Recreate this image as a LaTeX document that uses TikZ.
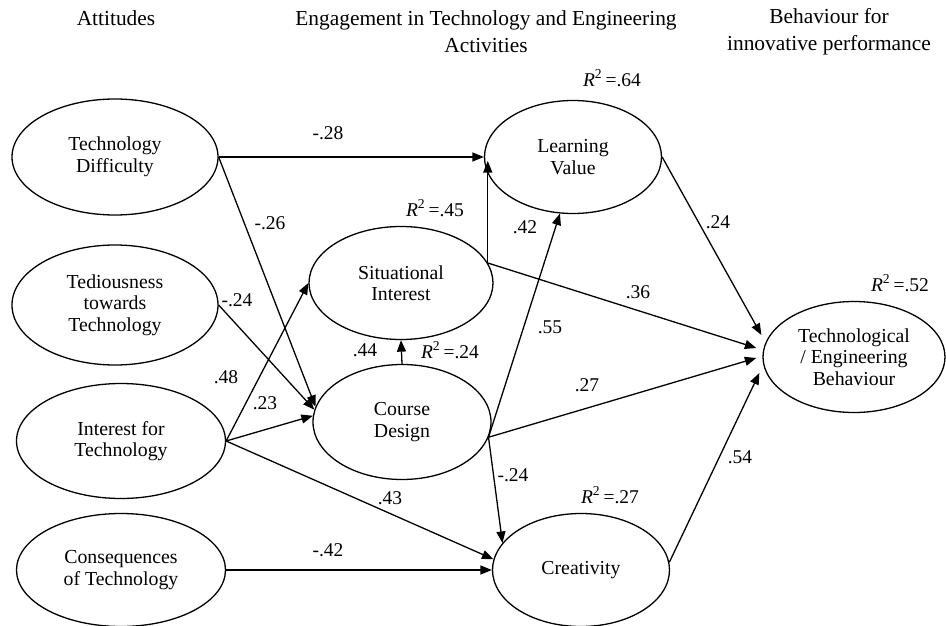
\documentclass[tikz,border=0pt]{standalone}
\usepackage{fontspec}
\setmainfont{Liberation Serif}
\usetikzlibrary{shapes.geometric,arrows.meta,calc}

% R-squared annotation
\newcommand{\Rsq}[1]{\textit{R}\textsuperscript{2}\,=#1}

\begin{document}
\begin{tikzpicture}[x=1pt,y=1pt,
  construct/.style={ellipse, draw, line width=1.3pt, inner sep=0pt, align=center,
    font=\fontsize{19.8}{21.5}\selectfont},
  path/.style={line width=1.3pt, -{Triangle[length=11.5pt,width=9pt]}},
  coef/.style={font=\fontsize{19.5}{21.5}\selectfont, inner sep=0pt},
  heading/.style={align=center, font=\fontsize{21.4}{27}\selectfont, inner sep=0pt}]
\useasboundingbox (0,0) rectangle (946,-626);

% column headings
\node[heading] (h1) at (116,-18) {Attitudes};
\node[heading] (h2) at (486,-31.5) {Engagement in Technology and Engineering\\Activities};
\node[heading] (h3) at (829,-31.5) {Behaviour for\\innovative performance};

% latent constructs
\node[construct, minimum width=206pt, minimum height=116pt] (td)   at (115,-157) {Technology\\Difficulty};
\node[construct, minimum width=206pt, minimum height=120pt] (ted)  at (115,-305) {Tediousness\\towards\\Technology};
\node[construct, minimum width=209pt, minimum height=115pt] (ift)  at (121,-441) {Interest for\\Technology};
\node[construct, minimum width=209pt, minimum height=113pt] (cons) at (121,-570) {Consequences\\of Technology};
\node[construct, minimum width=184pt, minimum height=113pt] (si)   at (401,-283) {Situational\\Interest};
\node[construct, minimum width=178pt, minimum height=115pt] (cd)   at (402,-422) {Course\\Design};
\node[construct, minimum width=177pt, minimum height=113pt] (lv)   at (573,-157) {Learning\\Value};
\node[construct, minimum width=177pt, minimum height=113pt] (cr)   at (581,-570) {Creativity};
\node[construct, minimum width=182pt, minimum height=111pt] (te)   at (854,-357) {Technological\\/ Engineering\\Behaviour};

% arrival points on the outcome construct
\coordinate (te1) at ($(te.west)+(-1,22)$);
\coordinate (te2) at ($(te.west)+(-6,9)$);
\coordinate (te3) at ($(te.west)+(-6,-1)$);
\coordinate (te4) at ($(te.west)+(-3,-16)$);

% structural paths
\draw[path] (td.east) -- (lv.west);
\draw[path] (td.east) -- (cd.170);
\draw[path] (ted.east) -- (cd.172);
\draw[path] (ift.east) -- (si.west);
\draw[path] (ift.east) -- (cd.176);
\draw[path] (ift.east) -- (cr.173);
\draw[path] (cons.east) -- (cr.west);
\draw[path] (cd.north) -- (si.south);
\draw[path] (si.13) -- ($(si.13 |- lv.west)+(0,-4)$);
\draw[path] (si.13) -- (te2);
\draw[path] (cd.350) -- (lv.257);
\draw[path] (cd.350) -- (te3);
\draw[path] (cd.350) -- (cr.161);
\draw[path] (lv.east) -- (te1);
\draw[path] (cr.5) -- (te4);

% path coefficients
\node[coef] (c1)  at (328,-133) {-.28};
\node[coef] (c2)  at (270,-223) {-.26};
\node[coef] (c3)  at (237,-300) {-.24};
\node[coef] (c4)  at (226,-377) {.48};
\node[coef] (c5)  at (265,-403) {.23};
\node[coef] (c6)  at (365,-350) {.44};
\node[coef] (c7)  at (390,-498) {.43};
\node[coef] (c8)  at (328,-550) {-.42};
\node[coef] (c9)  at (525,-227) {.42};
\node[coef] (c10) at (550,-327) {.55};
\node[coef] (c11) at (638,-292) {.36};
\node[coef] (c12) at (718,-222) {.24};
\node[coef] (c13) at (587,-385) {.27};
\node[coef] (c14) at (740,-457) {.54};
\node[coef] (c15) at (513,-475) {-.24};

% explained variance
\node[coef] (r1) at (612,-78)  {\Rsq{.64}};
\node[coef] (r2) at (435,-208) {\Rsq{.45}};
\node[coef] (r3) at (450,-350) {\Rsq{.24}};
\node[coef] (r4) at (900,-283) {\Rsq{.52}};
\node[coef] (r5) at (610,-495) {\Rsq{.27}};
\end{tikzpicture}
\end{document}
